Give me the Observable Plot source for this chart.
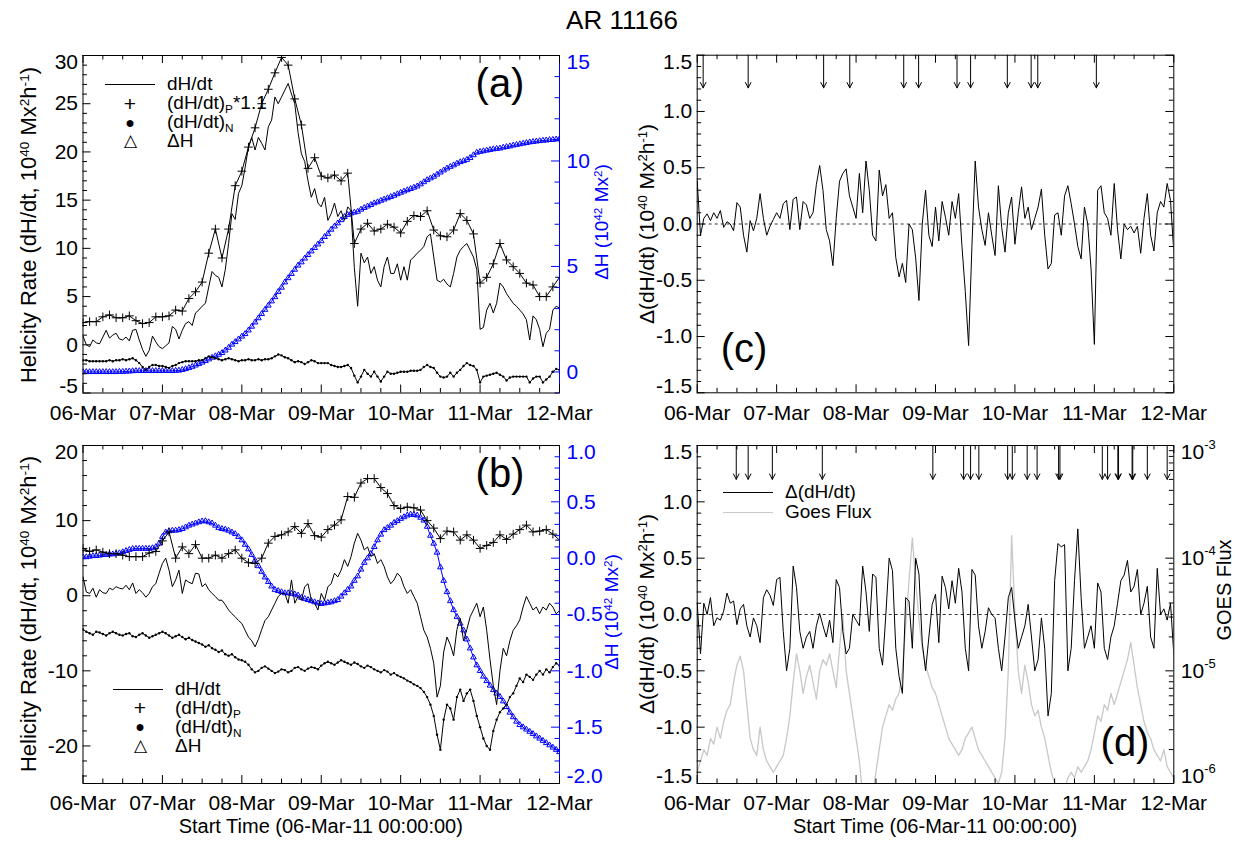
<!DOCTYPE html>
<html>
<head>
<meta charset="utf-8">
<title>AR 11166</title>
<script src="https://cdn.jsdelivr.net/npm/d3@7"></script>
<script src="https://cdn.jsdelivr.net/npm/@observablehq/plot@0.6"></script>
<style>
  html,body{margin:0;padding:0;background:#fff;}
  #chart{position:relative;width:1245px;height:842px;overflow:hidden;background:#fff;font-family:"Liberation Sans",Arial,Helvetica,sans-serif;}
  #chart svg{position:absolute;left:0;top:0;}
  .t{position:absolute;white-space:nowrap;line-height:1;color:#000;}
  .t sup{font-size:0.62em;vertical-align:0;position:relative;top:-0.55em;}
  .t sub{font-size:0.62em;vertical-align:0;position:relative;top:0.3em;}
  .ls{position:absolute;height:0;border-top:1px solid #000;}
</style>
</head>
<body>
<div id="chart"></div>
<script>
// ---------- categories / tick labels ----------
const dayLabels = ["06-Mar", "07-Mar", "08-Mar", "09-Mar", "10-Mar", "11-Mar", "12-Mar"];
const xMajor = [0, 24, 48, 72, 96, 120, 144];
const xMinor = [6, 12, 18, 30, 36, 42, 54, 60, 66, 78, 84, 90, 102, 108, 114, 126, 132, 138];

// ---------- panel (a) : hourly values (hours since 06-Mar 00:00) ----------
const aRate = [0.9,0.0,-0.2,0.5,0.2,0.1,0.8,1.5,0.7,1.0,
  1.2,0.6,0.5,0.8,0.4,1.5,1.6,0.5,-0.5,-1.2,
  -0.6,0.9,0.3,-0.2,-0.4,-0.1,0.2,1.9,1.6,0.6,
  1.5,2.2,2.4,2.0,3.3,3.6,4.0,4.3,6.0,7.6,
  7.2,7.0,6.0,7.8,10.5,13.6,13.0,15.7,16.5,18.4,
  20.5,21.5,20.2,21.5,20.9,20.2,22.6,23.3,25.7,25.0,
  25.7,26.4,27.1,26.0,25.0,22.0,19.8,19.0,17.0,15.3,
  16.2,14.7,14.3,15.3,12.9,13.6,14.7,13.3,13.9,12.9,
  14.3,13.9,8.0,4.0,9.5,8.5,9.1,7.4,8.1,6.7,
  6.0,8.1,9.1,7.4,7.4,8.4,6.7,8.1,6.7,8.8,
  9.1,9.5,9.8,10.2,11.2,11.5,9.1,6.7,6.5,6.8,
  6.3,6.0,7.4,9.1,9.8,10.2,10.5,9.8,9.1,7.8,
  1.6,1.8,3.6,4.3,3.3,4.3,6.4,6.0,5.3,4.8,
  4.3,4.0,3.6,3.2,2.6,0.5,3.0,2.6,1.6,-0.2,
  1.2,1.6,3.6,4.0,3.8];
// (dH/dt)_P * 1.1, every 2 hours
const aPos = [2.3,2.4,2.4,2.9,3.1,2.8,2.8,3.0,2.5,2.2,
  2.3,2.9,2.9,3.0,3.6,3.5,4.8,5.5,6.5,9.5,
  12.0,9.0,12.0,16.5,18.0,20.5,22.5,25.0,26.5,28.2,
  29.8,29.0,25.5,22.8,18.3,19.4,17.5,17.3,17.6,17.0,
  17.8,10.5,12.0,12.6,11.8,12.0,12.5,12.2,11.6,12.8,
  13.4,13.3,13.9,11.9,11.3,11.2,11.9,13.6,12.9,11.5,
  6.4,7.0,8.4,10.5,8.8,8.1,7.4,6.4,6.2,5.0,
  5.0,6.0,7.0];
const aNeg = [-1.6,-1.6,-1.7,-1.7,-1.7,-1.7,-1.7,-1.7,-1.6,-1.7,
  -1.6,-1.6,-1.5,-1.6,-1.5,-1.4,-1.6,-1.9,-2.3,-2.6,
  -2.3,-2.1,-2.1,-2.2,-2.2,-2.3,-2.4,-2.2,-2.1,-1.9,
  -1.8,-1.7,-1.7,-1.7,-1.7,-1.6,-1.6,-1.4,-1.2,-1.3,
  -1.4,-1.5,-1.6,-1.5,-1.4,-1.5,-1.6,-1.7,-1.6,-1.6,
  -1.5,-1.6,-1.6,-1.5,-1.6,-1.5,-1.5,-1.4,-1.2,-1.0,
  -1.1,-1.3,-1.4,-1.6,-1.8,-1.7,-1.8,-2.0,-1.8,-1.6,
  -1.7,-1.9,-1.9,-1.9,-1.9,-2.1,-2.2,-2.3,-2.3,-2.2,
  -2.1,-2.4,-3.2,-3.9,-3.3,-2.6,-3.0,-3.3,-2.8,-3.3,
  -3.8,-3.3,-2.8,-3.0,-3.0,-2.9,-2.8,-2.8,-2.8,-2.7,
  -2.7,-2.7,-2.6,-2.3,-2.1,-2.3,-2.4,-2.9,-3.3,-3.4,
  -3.3,-2.9,-3.3,-2.9,-2.6,-2.2,-1.9,-2.1,-2.2,-2.6,
  -3.9,-3.3,-3.2,-3.1,-3.0,-2.9,-3.1,-3.3,-3.7,-3.4,
  -3.3,-3.3,-3.3,-3.3,-3.3,-3.9,-3.5,-3.3,-3.3,-3.9,
  -3.6,-3.3,-2.8,-2.5,-2.6];
const aDeltaH = [0,0,0,0,0,0,0,0,0,0,
  0,0.01,0.01,0.02,0.03,0.04,0.05,0.05,0.05,0.05,
  0.05,0.05,0.05,0.05,0.05,0.05,0.05,0.05,0.06,0.07,
  0.1,0.14,0.19,0.25,0.31,0.38,0.45,0.52,0.6,0.68,
  0.75,0.82,0.9,1.02,1.15,1.3,1.42,1.55,1.68,1.8,
  1.97,2.15,2.35,2.55,2.75,2.95,3.15,3.35,3.55,3.8,
  4.0,4.25,4.45,4.65,4.85,5.05,5.2,5.38,5.55,5.72,
  5.88,6.05,6.2,6.4,6.55,6.75,6.9,7.05,7.2,7.35,
  7.45,7.52,7.56,7.6,7.7,7.78,7.85,7.92,8.0,8.05,
  8.12,8.18,8.24,8.3,8.36,8.43,8.5,8.56,8.62,8.68,
  8.74,8.8,8.9,9.0,9.1,9.18,9.26,9.36,9.46,9.56,
  9.65,9.73,9.8,9.88,9.95,10.0,10.06,10.15,10.28,10.4,
  10.44,10.47,10.5,10.53,10.56,10.58,10.6,10.64,10.67,10.7,
  10.74,10.77,10.8,10.83,10.86,10.89,10.91,10.93,10.95,10.97,
  10.98,11.0,11.01,11.03,11.05];

// ---------- panel (b) ----------
const bRate = [2.5,0.5,0.3,1.0,-0.2,0.8,0.4,0.3,1.0,0.8,
  1.2,1.0,0.9,1.4,0.8,1.7,0.3,0.8,0.4,-0.2,
  0.3,1.2,1.6,3.0,4.3,5.0,3.4,1.2,2.1,3.4,
  0.3,2.1,1.8,1.6,3.0,2.9,1.2,1.6,0.8,0.3,
  -0.1,-0.6,-0.6,-1.2,-1.9,-2.4,-2.8,-3.3,-3.7,-4.6,
  -5.5,-6.0,-6.8,-5.8,-4.5,-3.3,-2.8,-1.9,-1.0,-0.1,
  0.3,0.3,-1.0,2.1,-1.0,-0.1,-0.6,1.2,1.6,-0.6,
  -1.0,-1.9,0.3,-0.6,1.2,1.6,3.0,2.5,3.4,4.8,
  3.9,5.2,7.0,8.3,7.4,6.1,6.5,5.2,5.6,4.3,
  4.8,3.9,2.5,1.6,2.1,3.0,2.5,1.2,0.3,0.8,
  -0.1,-1.0,-2.8,-4.6,-5.5,-7.0,-9.0,-13.5,-12.0,-7.5,
  -5.5,-6.5,-8.0,-4.5,-3.0,-6.0,-4.5,-2.8,-1.9,-1.0,
  -2.8,-1.5,-4.6,-8.5,-12.0,-14.5,-10.0,-7.0,-8.0,-6.0,
  -4.6,-4.0,-3.2,-1.5,-0.1,-1.0,-1.9,-1.5,-2.4,-1.5,
  -1.9,-1.0,-1.5,-2.4,-2.0];
// (dH/dt)_P, every 2 hours
const bPos = [6.3,5.9,6.1,5.8,5.6,5.6,5.4,5.2,5.2,5.2,
  5.7,5.9,7.3,8.5,5.0,6.5,5.6,6.8,5.0,5.0,
  5.4,5.0,5.6,6.1,5.0,4.4,4.3,5.0,7.0,7.9,
  8.1,8.5,9.2,8.3,9.6,8.0,7.8,8.8,9.4,10.1,
  13.2,13.1,15.0,15.6,15.6,14.4,13.6,12.0,11.6,11.8,
  11.7,11.4,10.0,9.0,7.6,8.6,8.5,7.4,8.1,7.4,
  6.3,6.7,7.1,8.1,7.5,8.2,8.8,9.4,8.5,8.6,
  8.8,8.2,7.4];
const bNeg = [-4.5,-4.8,-5.0,-5.2,-4.8,-4.9,-5.1,-5.3,-5.0,-4.8,
  -5.0,-5.2,-5.3,-5.1,-5.0,-5.4,-5.5,-5.2,-5.0,-5.3,
  -5.6,-5.4,-5.2,-5.0,-4.8,-5.0,-5.3,-5.6,-5.4,-5.2,
  -5.5,-5.8,-5.6,-5.9,-6.1,-6.3,-6.5,-6.8,-6.6,-7.0,
  -7.2,-7.5,-7.3,-7.8,-8.0,-7.8,-8.2,-8.5,-8.6,-8.8,
  -9.2,-9.8,-10.2,-10.0,-9.6,-9.4,-9.7,-10.0,-10.3,-10.1,
  -9.8,-9.9,-10.2,-10.0,-9.6,-9.5,-9.8,-10.0,-9.7,-9.5,
  -9.6,-9.8,-9.3,-9.0,-8.8,-9.0,-9.2,-8.9,-8.6,-8.8,
  -9.0,-9.2,-8.9,-9.1,-9.4,-9.6,-9.3,-9.5,-9.8,-10.0,
  -10.2,-9.9,-10.1,-10.5,-10.3,-10.6,-10.8,-11.0,-11.3,-11.5,
  -11.8,-12.0,-12.3,-12.8,-13.5,-14.5,-16.0,-18.5,-20.5,-16.5,
  -14.5,-15.0,-16.5,-13.5,-12.5,-14.0,-13.0,-12.5,-14.0,-16.0,
  -17.5,-19.0,-20.0,-20.5,-18.0,-16.5,-15.5,-15.0,-14.5,-13.5,
  -13.0,-12.0,-11.0,-11.5,-10.5,-10.8,-11.2,-10.5,-10.0,-10.5,
  -9.8,-10.2,-9.5,-9.0,-9.3];
const bDeltaH = [0.01,0.01,0.015,0.02,0.02,0.024,0.03,0.03,0.035,0.035,
  0.04,0.045,0.055,0.065,0.075,0.083,0.085,0.085,0.085,0.085,
  0.085,0.09,0.1,0.13,0.19,0.23,0.24,0.245,0.246,0.25,
  0.26,0.275,0.29,0.3,0.31,0.32,0.328,0.33,0.32,0.31,
  0.29,0.27,0.26,0.255,0.245,0.23,0.215,0.19,0.16,0.12,
  0.08,0.03,-0.02,-0.07,-0.12,-0.17,-0.21,-0.25,-0.28,-0.29,
  -0.3,-0.31,-0.31,-0.315,-0.32,-0.33,-0.35,-0.36,-0.37,-0.38,
  -0.39,-0.4,-0.405,-0.4,-0.395,-0.39,-0.38,-0.37,-0.34,-0.31,
  -0.28,-0.25,-0.2,-0.16,-0.1,-0.04,0.0,0.04,0.1,0.16,
  0.21,0.25,0.27,0.29,0.315,0.33,0.35,0.365,0.38,0.388,
  0.385,0.38,0.36,0.335,0.28,0.2,0.13,0.05,-0.08,-0.2,
  -0.3,-0.38,-0.46,-0.52,-0.58,-0.64,-0.72,-0.8,-0.88,-0.95,
  -1.0,-1.05,-1.09,-1.13,-1.17,-1.2,-1.23,-1.27,-1.32,-1.37,
  -1.41,-1.45,-1.48,-1.5,-1.52,-1.54,-1.56,-1.58,-1.6,-1.62,
  -1.64,-1.66,-1.68,-1.7,-1.72];

// ---------- panel (c) ----------
const cDelta = [0.38,-0.1,0.05,0.09,0.03,0.1,0.05,0.12,-0.03,0.02,
  0.0,-0.06,0.19,0.15,-0.1,-0.25,0.03,-0.06,0.05,0.27,
  0.05,-0.1,-0.02,0.04,0.1,0.05,0.18,0.21,-0.05,0.22,
  0.24,-0.05,0.2,0.17,0.05,0.1,0.35,0.52,0.3,-0.05,
  -0.15,-0.37,0.05,0.38,0.45,0.49,0.25,0.15,0.05,0.45,
  0.1,0.56,0.3,-0.1,-0.15,0.48,0.25,0.35,0.05,0.1,
  -0.3,-0.47,-0.35,-0.52,0.0,-0.05,-0.3,-0.68,0.0,0.3,
  -0.1,-0.2,0.15,-0.15,0.2,0.06,-0.1,0.2,0.05,0.27,
  -0.2,-0.6,-1.08,-0.2,0.56,0.15,-0.05,-0.19,0.1,-0.1,
  -0.28,0.34,-0.03,-0.25,0.1,0.24,-0.18,0.1,0.33,0.05,
  0.15,-0.05,0.05,0.15,0.31,-0.1,-0.4,-0.35,0.08,0.1,
  -0.1,0.25,0.34,0.18,0.0,-0.2,-0.31,0.15,0.0,-0.4,
  -1.07,0.3,0.34,0.1,0.05,-0.1,0.36,-0.05,-0.31,0.0,
  -0.05,-0.02,-0.08,-0.02,-0.26,0.05,0.27,-0.1,-0.24,0.1,
  0.2,0.15,0.36,0.21,-0.25];
const cFlares = [1.8, 15.4, 38.2, 46.1, 62.4, 66.9, 78.5, 82.6, 93.7, 100.9, 102.9, 120.6];

// ---------- panel (d) ----------
const dDelta = [0.1,-0.35,0.1,0.0,0.15,-0.1,-0.03,-0.05,0.03,0.19,
  0.1,0.12,-0.09,0.05,0.09,-0.1,-0.2,-0.03,-0.1,-0.25,
  0.15,0.22,0.17,0.08,0.31,0.33,-0.15,-0.5,-0.3,0.43,
  0.24,-0.15,-0.3,-0.2,-0.15,-0.3,-0.1,0.01,-0.1,-0.2,
  -0.05,-0.25,0.31,0.24,-0.15,-0.35,-0.3,0.0,-0.05,-0.1,
  0.43,0.2,-0.15,0.36,0.33,-0.3,-0.45,0.0,0.5,0.39,
  -0.3,-0.55,-0.7,0.15,0.12,-0.3,0.5,0.36,-0.25,-0.5,
  -0.2,0.09,0.18,-0.25,0.34,0.24,0.05,0.3,0.1,0.41,
  0.2,-0.3,-0.5,0.4,0.35,-0.1,-0.3,-0.15,0.06,0.0,
  -0.03,-0.3,-0.5,-0.2,0.15,0.24,-0.05,-0.3,-0.2,-0.1,
  0.09,-0.2,-0.5,-0.4,-0.03,-0.3,-0.9,-0.7,0.3,0.63,
  0.6,0.62,-0.5,-0.3,0.3,0.76,0.15,-0.3,-0.2,-0.1,
  -0.3,0.28,0.2,-0.3,-0.4,-0.2,-0.1,0.1,0.3,0.35,
  0.48,0.2,0.25,0.4,0.0,0.1,0.25,-0.2,-0.3,0.41,
  0.0,0.05,-0.05,0.1,-0.35];
const dFlares = [11.8, 15.4, 22.7, 37.8, 71.2, 80.5, 82.6, 85.1, 93.8, 95.2, 99.7, 102.7, 109.2, 109.6,
  122.4, 124.0, 127.1, 127.3, 131.4, 131.6, 136.0, 142.0];
// GOES X-ray flux, log10(W m^-2), hourly
const goesLog10 = [-5.9,-5.8,-5.7,-5.75,-5.6,-5.65,-5.5,-5.6,-5.45,-5.35,
  -5.3,-5.1,-4.95,-4.87,-5.0,-5.3,-5.6,-5.7,-5.75,-5.5,
  -5.7,-5.8,-5.85,-5.9,-5.85,-5.8,-5.75,-5.6,-5.4,-5.1,
  -4.85,-5.0,-5.2,-5.05,-4.95,-5.1,-5.25,-5.0,-4.9,-4.95,
  -4.85,-5.0,-5.15,-4.8,-4.5,-5.0,-5.2,-5.4,-5.6,-5.8,
  -6.1,-6.2,-6.3,-6.1,-5.9,-5.7,-5.5,-5.4,-5.3,-5.35,
  -5.25,-5.2,-5.0,-4.6,-4.2,-3.82,-4.2,-4.55,-4.8,-4.95,
  -5.05,-5.15,-5.2,-5.3,-5.4,-5.5,-5.6,-5.65,-5.7,-5.75,
  -5.7,-5.6,-5.55,-5.5,-5.6,-5.7,-5.75,-5.8,-5.85,-5.9,
  -5.95,-6.0,-5.9,-5.6,-5.0,-3.8,-4.5,-5.0,-5.2,-4.95,
  -5.1,-5.3,-5.4,-5.35,-5.5,-5.6,-5.75,-5.9,-6.0,-6.05,
  -6.1,-6.05,-5.95,-5.9,-5.95,-5.85,-5.9,-5.85,-5.8,-5.7,
  -5.55,-5.4,-5.45,-5.3,-5.35,-5.2,-5.3,-5.2,-5.1,-5.0,
  -4.9,-4.75,-4.95,-5.15,-5.3,-5.45,-5.55,-5.6,-5.7,-5.75,
  -5.8,-5.7,-5.85,-5.9,-5.95];

// ---------- axis tick values ----------
const aLeftTicks = [-5, 0, 5, 10, 15, 20, 25, 30];
const aRightTicks = [0, 5, 10, 15];
const bLeftTicks = [-20, -10, 0, 10, 20];
const bRightTicks = [-2, -1.5, -1, -0.5, 0, 0.5, 1];
const cdTicks = [-1.5, -1, -0.5, 0, 0.5, 1, 1.5];
const goesTicks = [1e-6, 1e-5, 1e-4, 1e-3];
const goesMantissas = [2, 3, 4, 5, 6, 7, 8, 9];

// ---------- layout / style ----------
const W = 1245, H = 842;
const BLUE = "#0000ff", GRAY = "#c8c8c8";
const FONT = '"Liberation Sans", Arial, Helvetica, sans-serif';
const TICKFONT = 21;
const LEGFONT = 19;
const boxA = {l: 82.5, r: 559, t: 55, b: 392.5};
const boxB = {l: 82.5, r: 559, t: 445, b: 783};
const boxC = {l: 696.7, r: 1173.3, t: 54.7, b: 392.3};
const boxD = {l: 696.7, r: 1173.3, t: 445, b: 783};

const hourly = arr => arr.map((v, i) => ({t: i, v}));
const twoHourly = arr => arr.map((v, i) => ({t: 2 * i, v}));
const chart = document.getElementById("chart");

function base(box) {
  return {
    width: W, height: H,
    marginLeft: box.l, marginRight: W - box.r, marginTop: box.t, marginBottom: H - box.b,
    style: {background: "transparent", overflow: "visible", fontFamily: FONT, fontSize: TICKFONT + "px", color: "black"}
  };
}
function minorTicks(lo, hi, step, majors) {
  const out = [];
  const n = Math.round((hi - lo) / step);
  for (let i = 0; i <= n; i++) {
    const v = +(lo + i * step).toFixed(6);
    if (!majors.some(m => Math.abs(m - v) < 1e-9)) out.push(v);
  }
  return out;
}
function xTickMarks(box) {
  const fh = box.b - box.t;
  return [
    Plot.tickX(xMajor, {insetTop: fh - 8}),
    Plot.tickX(xMinor, {insetTop: fh - 4.5}),
    Plot.tickX(xMajor, {insetBottom: fh - 8}),
    Plot.tickX(xMinor, {insetBottom: fh - 4.5})
  ];
}
function yTickMarks(box, major, minor, side, stroke = "black") {
  const fw = box.r - box.l;
  const k = side === "left" ? "insetRight" : "insetLeft";
  return [Plot.tickY(major, {[k]: fw - 8, stroke}), Plot.tickY(minor, {[k]: fw - 4.5, stroke})];
}
function yLabelMarks(ticks, domain, fmt, anchor, color = "black") {
  const [lo, hi] = domain;
  const near = (a, b) => Math.abs(a - b) <= 1e-9 * Math.max(1e-6, Math.abs(b));
  const top = ticks.filter(d => near(d, hi));
  const bot = ticks.filter(d => near(d, lo));
  const mid = ticks.filter(d => !near(d, hi) && !near(d, lo));
  const o = {anchor, tickSize: 0, tickPadding: anchor === "left" ? 5 : 7, tickFormat: fmt, label: null, fill: color, stroke: color, fontSize: TICKFONT};
  const marks = [Plot.axisY(mid, o)];
  if (top.length) marks.push(Plot.axisY(top, {...o, dy: 7}));
  if (bot.length) marks.push(Plot.axisY(bot, {...o, dy: -7}));
  return marks;
}
function xLabelMarks() {
  return Plot.axisX(xMajor, {tickSize: 0, tickPadding: 12, tickFormat: d => dayLabels[xMajor.indexOf(d)], label: null, fontSize: TICKFONT});
}
function superscriptify(svg) {
  d3.select(svg).selectAll("text").each(function () {
    const s = this.textContent;
    if (!s.includes("^")) return;
    const [b, e] = s.split("^");
    const sel = d3.select(this);
    sel.text(null);
    sel.append("tspan").text(b);
    sel.append("tspan").attr("dy", "-0.75em").attr("font-size", "0.62em").text(e);
  });
}
function mount(svg) { chart.appendChild(svg); }
function addText(html, x, y, opts = {}) {
  const {size = 20, color = "#000", align = "left", rotate = false, lh = 1} = opts;
  const el = document.createElement("div");
  el.className = "t";
  el.innerHTML = html;
  el.style.left = x + "px";
  el.style.top = y + "px";
  el.style.fontSize = size + "px";
  el.style.lineHeight = String(lh);
  el.style.color = color;
  el.style.transform = rotate ? "translate(-50%,-50%) rotate(-90deg)"
    : (align === "center" ? "translate(-50%,-50%)" : "translate(0,-50%)");
  chart.appendChild(el);
}
function addLine(x, y, w, color = "#000") {
  const el = document.createElement("div");
  el.className = "ls";
  el.style.left = x + "px"; el.style.top = y + "px"; el.style.width = w + "px";
  el.style.borderTopColor = color;
  chart.appendChild(el);
}

const intFmt = d => String(d);
const oneDec = d => d.toFixed(1);

// ---------- panel (a) ----------
mount(Plot.plot({
  ...base(boxA),
  x: {domain: [0, 144], axis: null},
  y: {domain: [-1, 15]},
  marks: [
    Plot.line(hourly(aDeltaH), {x: "t", y: "v", stroke: BLUE, strokeWidth: 1, clip: true}),
    Plot.dot(hourly(aDeltaH), {x: "t", y: "v", symbol: "triangle2", r: 2.7, stroke: BLUE, fill: "none", strokeWidth: 1, clip: true}),
    ...yTickMarks(boxA, aRightTicks, minorTicks(-1, 15, 1, aRightTicks), "right", BLUE),
    ...yLabelMarks(aRightTicks, [-1, 15], intFmt, "right", BLUE)
  ]
}));
mount(Plot.plot({
  ...base(boxA),
  x: {domain: [0, 144]},
  y: {domain: [-5, 30]},
  marks: [
    Plot.line(hourly(aRate), {x: "t", y: "v", stroke: "black", strokeWidth: 1, clip: true}),
    Plot.line(twoHourly(aPos), {x: "t", y: "v", stroke: "black", strokeWidth: 1, clip: true}),
    Plot.dot(twoHourly(aPos), {x: "t", y: "v", symbol: "plus", r: 2.9, stroke: "black", fill: "none", strokeWidth: 1, clip: true}),
    Plot.line(hourly(aNeg), {x: "t", y: "v", stroke: "black", strokeWidth: 1, clip: true}),
    Plot.dot(hourly(aNeg), {x: "t", y: "v", r: 1.2, fill: "black", stroke: "none", clip: true}),
    Plot.frame({stroke: "black"}),
    Plot.ruleX([144], {stroke: BLUE}),
    ...xTickMarks(boxA),
    ...yTickMarks(boxA, aLeftTicks, minorTicks(-5, 30, 1, aLeftTicks), "left"),
    ...yLabelMarks(aLeftTicks, [-5, 30], intFmt, "left"),
    xLabelMarks()
  ]
}));

// ---------- panel (b) ----------
mount(Plot.plot({
  ...base(boxB),
  x: {domain: [0, 144], axis: null},
  y: {domain: [-2, 1]},
  marks: [
    Plot.line(hourly(bDeltaH), {x: "t", y: "v", stroke: BLUE, strokeWidth: 1, clip: true}),
    Plot.dot(hourly(bDeltaH), {x: "t", y: "v", symbol: "triangle2", r: 2.7, stroke: BLUE, fill: "none", strokeWidth: 1, clip: true}),
    ...yTickMarks(boxB, bRightTicks, minorTicks(-2, 1, 0.1, bRightTicks), "right", BLUE),
    ...yLabelMarks(bRightTicks, [-2, 1], oneDec, "right", BLUE)
  ]
}));
mount(Plot.plot({
  ...base(boxB),
  x: {domain: [0, 144]},
  y: {domain: [-25, 20]},
  marks: [
    Plot.line(hourly(bRate), {x: "t", y: "v", stroke: "black", strokeWidth: 1, clip: true}),
    Plot.line(twoHourly(bPos), {x: "t", y: "v", stroke: "black", strokeWidth: 1, clip: true}),
    Plot.dot(twoHourly(bPos), {x: "t", y: "v", symbol: "plus", r: 2.9, stroke: "black", fill: "none", strokeWidth: 1, clip: true}),
    Plot.line(hourly(bNeg), {x: "t", y: "v", stroke: "black", strokeWidth: 1, clip: true}),
    Plot.dot(hourly(bNeg), {x: "t", y: "v", r: 1.2, fill: "black", stroke: "none", clip: true}),
    Plot.frame({stroke: "black"}),
    Plot.ruleX([144], {stroke: BLUE}),
    ...xTickMarks(boxB),
    ...yTickMarks(boxB, bLeftTicks, minorTicks(-24, 20, 2, bLeftTicks), "left"),
    ...yLabelMarks(bLeftTicks, [-25, 20], intFmt, "left"),
    xLabelMarks()
  ]
}));

// ---------- panel (c) ----------
mount(Plot.plot({
  ...base(boxC),
  x: {domain: [0, 144]},
  y: {domain: [-1.5, 1.5]},
  marks: [
    Plot.ruleY([0], {stroke: "black", strokeWidth: 0.8, strokeDasharray: "3,3"}),
    Plot.line(hourly(cDelta), {x: "t", y: "v", stroke: "black", strokeWidth: 1, clip: true}),
    Plot.arrow(cFlares, {x1: d => d, x2: d => d, y1: () => 1.5, y2: () => 1.21, stroke: "black", strokeWidth: 1, headLength: 9, headAngle: 55}),
    Plot.frame({stroke: "black"}),
    ...xTickMarks(boxC),
    ...yTickMarks(boxC, cdTicks, minorTicks(-1.5, 1.5, 0.1, cdTicks), "left"),
    ...yTickMarks(boxC, cdTicks, minorTicks(-1.5, 1.5, 0.1, cdTicks), "right"),
    ...yLabelMarks(cdTicks, [-1.5, 1.5], oneDec, "left"),
    xLabelMarks()
  ]
}));

// ---------- panel (d) ----------
const goesMinor = goesTicks.slice(0, 3).flatMap(p => goesMantissas.map(m => m * p));
const goesSvg = Plot.plot({
  ...base(boxD),
  x: {domain: [0, 144], axis: null},
  y: {type: "log", domain: [1e-6, 1e-3]},
  marks: [
    Plot.line(goesLog10.map((v, i) => ({t: i, v: Math.pow(10, v)})), {x: "t", y: "v", stroke: GRAY, strokeWidth: 1.3, clip: true}),
    ...yTickMarks(boxD, goesTicks, goesMinor, "right"),
    ...yLabelMarks(goesTicks, [1e-6, 1e-3], d => "10^" + Math.round(Math.log10(d)), "right")
  ]
});
superscriptify(goesSvg);
mount(goesSvg);
mount(Plot.plot({
  ...base(boxD),
  x: {domain: [0, 144]},
  y: {domain: [-1.5, 1.5]},
  marks: [
    Plot.ruleY([0], {stroke: "black", strokeWidth: 0.8, strokeDasharray: "3,3"}),
    Plot.line(hourly(dDelta), {x: "t", y: "v", stroke: "black", strokeWidth: 1, clip: true}),
    Plot.arrow(dFlares, {x1: d => d, x2: d => d, y1: () => 1.5, y2: () => 1.2, stroke: "black", strokeWidth: 1, headLength: 9, headAngle: 55}),
    Plot.frame({stroke: "black"}),
    ...xTickMarks(boxD),
    ...yTickMarks(boxD, cdTicks, minorTicks(-1.5, 1.5, 0.1, cdTicks), "left"),
    ...yLabelMarks(cdTicks, [-1.5, 1.5], oneDec, "left"),
    xLabelMarks()
  ]
}));

// ---------- text: title, axis titles, legends, panel letters ----------
addText("AR 11166", 622, 20, {size: 26, align: "center"});
const rateTitle = "Helicity Rate (dH/dt, 10<sup>40</sup> Mx<sup>2</sup>h<sup>-1</sup>)";
const dhTitle = "&Delta;H (10<sup>42</sup> Mx<sup>2</sup>)";
const deltaTitle = "&Delta;(dH/dt) (10<sup>40</sup> Mx<sup>2</sup>h<sup>-1</sup>)";
addText(rateTitle, 29, 225, {size: 22, rotate: true});
addText(rateTitle, 29, 614, {size: 22, rotate: true});
addText(dhTitle, 601, 222, {size: 19, rotate: true, color: BLUE});
addText(dhTitle, 611, 612, {size: 19, rotate: true, color: BLUE});
addText(deltaTitle, 646, 224, {size: 21, rotate: true});
addText(deltaTitle, 646, 614, {size: 21, rotate: true});
addText("GOES Flux", 1224, 590, {size: 20, rotate: true});
addText("Start Time (06-Mar-11 00:00:00)", 320.75, 826, {size: 20, align: "center"});
addText("Start Time (06-Mar-11 00:00:00)", 935, 826, {size: 20, align: "center"});

addText("(a)", 500, 83, {size: 40, align: "center"});
addText("(b)", 500, 473, {size: 40, align: "center"});
addText("(c)", 744, 348, {size: 40, align: "center"});
addText("(d)", 1125, 742, {size: 40, align: "center"});

// legend (a)
const LH = 0.92;
addLine(105, 84, 50);
addText("dH/dt", 167, 84, {size: LEGFONT, lh: LH});
addText("+", 130, 104, {size: 21, align: "center", lh: 0.75});
addText("(dH/dt)<sub>P</sub>*1.1", 167, 103, {size: LEGFONT, lh: LH});
addText("&#9679;", 130, 123, {size: 16, align: "center", lh: 0.8});
addText("(dH/dt)<sub>N</sub>", 167, 122, {size: LEGFONT, lh: LH});
addText("&#9651;", 130, 141, {size: 17, align: "center", lh: 0.8});
addText("&Delta;H", 167, 141, {size: LEGFONT, lh: LH});
// legend (b)
addLine(113, 689, 50);
addText("dH/dt", 175, 689, {size: LEGFONT, lh: LH});
addText("+", 140, 708, {size: 21, align: "center", lh: 0.75});
addText("(dH/dt)<sub>P</sub>", 175, 708, {size: LEGFONT, lh: LH});
addText("&#9679;", 140, 727, {size: 16, align: "center", lh: 0.8});
addText("(dH/dt)<sub>N</sub>", 175, 727, {size: LEGFONT, lh: LH});
addText("&#9651;", 140, 746, {size: 17, align: "center", lh: 0.8});
addText("&Delta;H", 175, 746, {size: LEGFONT, lh: LH});
// legend (d)
addLine(723, 492, 50);
addText("&Delta;(dH/dt)", 785, 492, {size: LEGFONT, lh: LH});
addLine(723, 512, 50, GRAY);
addText("Goes Flux", 785, 512, {size: LEGFONT, lh: LH});
</script>
</body>
</html>
